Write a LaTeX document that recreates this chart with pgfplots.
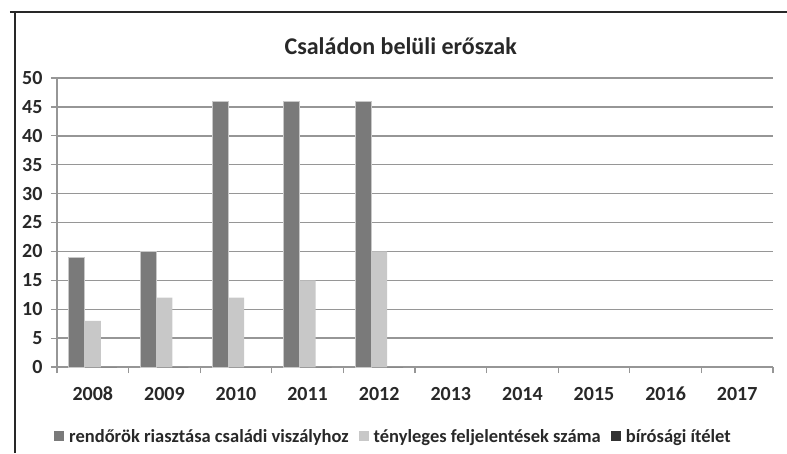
\documentclass[border=0pt]{standalone}
\usepackage{fontspec}
\setmainfont{Carlito}
\usepackage{pgfplots}
\pgfplotsset{compat=1.18}

\definecolor{darkbar}{RGB}{122,122,122}
\definecolor{lightbar}{RGB}{200,200,200}
\definecolor{thirdbar}{RGB}{50,50,50}
\definecolor{gridgray}{RGB}{150,150,150}
\definecolor{txt}{RGB}{40,40,40}

\begin{document}
\begin{tikzpicture}[x=1pt,y=1pt]
\path[use as bounding box] (-57,-86) rectangle (730,367);
\begin{axis}[
  scale only axis,
  width=716pt, height=289pt,
  ybar=0pt, bar width=16pt,
  xmin=-0.5, xmax=9.5,
  ymin=0, ymax=50,
  ytick={0,5,...,50},
  xtick={0,...,9},
  xticklabels={2008,2009,2010,2011,2012,2013,2014,2015,2016,2017},
  minor xtick={-0.5,0.5,...,9.5},
  major x tick style={draw=none},
  minor tick length=6pt,
  major tick length=6pt,
  tick align=outside,
  tick style={gridgray, line width=1.2pt},
  ymajorgrids,
  grid style={gridgray, line width=1.4pt},
  axis x line*=bottom, axis y line*=left,
  axis line style={gridgray, line width=1.4pt, -},
  tick label style={font=\fontsize{20}{20}\selectfont\bfseries, text=txt},
  /pgf/number format/assume math mode=true,
  xticklabel style={yshift=-11pt, text height=13pt, text depth=0pt},
  yticklabel style={xshift=-5pt},
  title={\fontsize{24}{24}\selectfont\bfseries Családon belüli erőszak},
  title style={text=txt, at={(0.48,1)}, yshift=14pt},
  legend style={at={(0.47,-0.24)}, anchor=center, draw=none, fill=none,
    legend columns=3, font=\fontsize{18.5}{18.5}\selectfont\bfseries, text=txt,
    /tikz/every odd column/.append style={column sep=3pt}},
  legend image code/.code={\draw[#1, draw=none] (0pt,-5pt) rectangle (10pt,5pt);},
]
\addplot[fill=darkbar, draw=lightbar, line width=0.8pt]
  coordinates {(0,19)(1,20)(2,46)(3,46)(4,46)};
\addlegendentry{rendőrök riasztása családi viszályhoz\kern8pt}
\addplot[fill=lightbar, draw=none]
  coordinates {(0,8)(1,12)(2,12)(3,15)(4,20)};
\addlegendentry{tényleges feljelentések száma\kern8pt}
\addplot[fill=thirdbar, draw=none]
  coordinates {(0,0)(1,0)(2,0)(3,0)(4,0)};
\addlegendentry{bírósági ítélet}
\end{axis}
\draw[txt, line width=1.2pt] (-42,-86) -- (-42,355);
\draw[txt, line width=1.2pt] (-47,355) -- (730,355);
\end{tikzpicture}
\end{document}
